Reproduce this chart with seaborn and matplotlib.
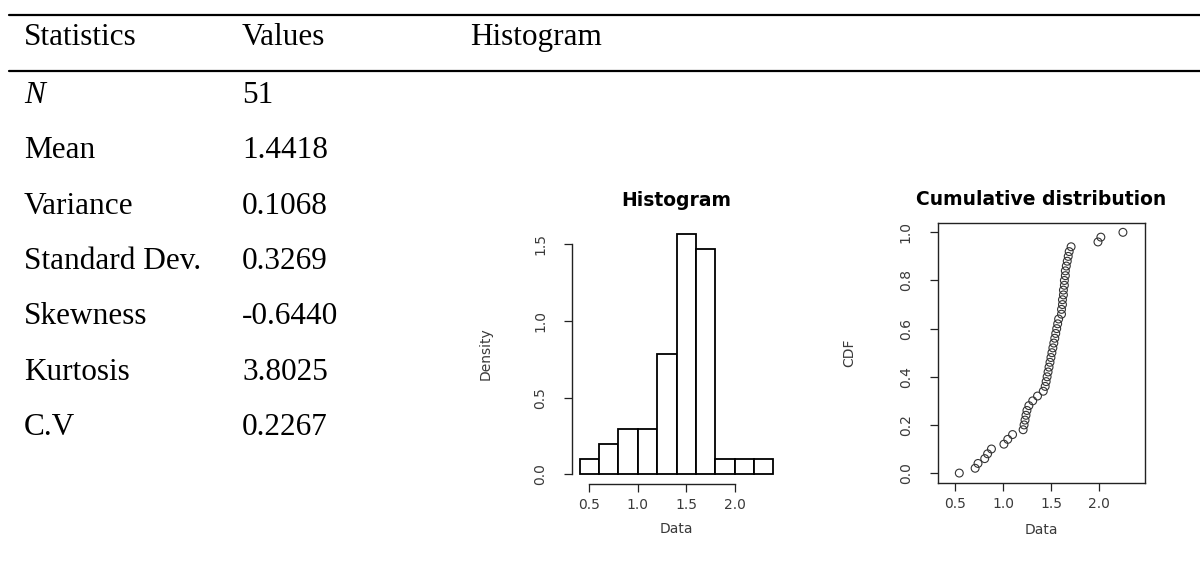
import numpy as np
import pandas as pd
import matplotlib
matplotlib.use("Agg")
import matplotlib.pyplot as plt
import seaborn as sns

# ---------------- data ----------------
stat_names = ["N", "Mean", "Variance", "Standard Dev.", "Skewness", "Kurtosis", "C.V"]
stat_values = ["51", "1.4418", "0.1068", "0.3269", "-0.6440", "3.8025", "0.2267"]
header_labels = ["Statistics", "Values", "Histogram"]

# sorted sample (n = 51)
sample = [0.545, 0.71, 0.74, 0.81, 0.84, 0.88, 1.01, 1.05, 1.10,
          1.21, 1.22, 1.23, 1.24, 1.25, 1.27, 1.31, 1.36,
          1.42, 1.44, 1.45, 1.46, 1.47, 1.48, 1.49, 1.50, 1.51, 1.52,
          1.53, 1.54, 1.55, 1.56, 1.57, 1.58,
          1.61, 1.61, 1.62, 1.62, 1.63, 1.63, 1.64, 1.64, 1.65, 1.65,
          1.66, 1.67, 1.68, 1.69, 1.71,
          1.99, 2.02, 2.25]
bin_edges = [0.4, 0.6, 0.8, 1.0, 1.2, 1.4, 1.6, 1.8, 2.0, 2.2, 2.4]
hist_xticks = [0.5, 1.0, 1.5, 2.0]
hist_yticks = [0.0, 0.5, 1.0, 1.5]
cdf_yticks = [0.0, 0.2, 0.4, 0.6, 0.8, 1.0]

sns.set_style("white")
plt.rcParams["font.family"] = ["DejaVu Sans"]
plt.rcParams["text.color"] = "black"
plt.rcParams["axes.labelcolor"] = "black"

W, H = 1200, 563
fig = plt.figure(figsize=(W / 100, H / 100), dpi=100)
fig.patch.set_facecolor("white")

def fx(px):
    return px / W

def fy(py):
    return 1 - py / H

# ---------------- table ----------------
serif = ["Liberation Serif", "DejaVu Serif"]
tsize = 22.5
line_kw = dict(color="black", lw=1.6, transform=fig.transFigure)
fig.add_artist(plt.Line2D([fx(9), 1.0], [fy(15), fy(15)], **line_kw))
fig.add_artist(plt.Line2D([fx(9), 1.0], [fy(71), fy(71)], **line_kw))

col_x = [24, 242, 470]
for x, lab in zip(col_x, header_labels):
    fig.text(fx(x), fy(45), lab, family=serif, fontsize=tsize, va="baseline",
             ha="left", color="black")

row_base = [103, 158, 214, 269, 324, 380, 435]
for yb, name, val in zip(row_base, stat_names, stat_values):
    fig.text(fx(col_x[0]), fy(yb), name, family=serif, fontsize=tsize, color="black",
             va="baseline", ha="left", style="italic" if name == "N" else "normal")
    fig.text(fx(col_x[1]), fy(yb), val, family=serif, fontsize=tsize, color="black",
             va="baseline", ha="left")

# ---------------- R-style panels ----------------
gray = "#3a3a3a"
tick_fs = 10
lab_fs = 10
title_fs = 13.5

df = pd.DataFrame({"Data": sample})
df["CDF"] = np.arange(len(df)) / (len(df) - 1)

# Histogram
ax1 = fig.add_axes([fx(572), fy(484), fx(781) - fx(572), fy(224) - fy(484)])
sns.histplot(data=df, x="Data", bins=bin_edges, stat="density", color="white",
             edgecolor="black", linewidth=1.3, alpha=1, ax=ax1)
ax1.set_xlim(0.32, 2.48)
dmax = 16 / (len(sample) * 0.2)
ax1.set_ylim(-0.04 * dmax, 1.04 * dmax)
for s in ["top", "right"]:
    ax1.spines[s].set_visible(False)
ax1.spines["left"].set_bounds(0, 1.5)
ax1.spines["bottom"].set_bounds(0.5, 2.0)
ax1.set_xticks(hist_xticks)
ax1.set_xticklabels([f"{v:.1f}" for v in hist_xticks], color=gray, fontsize=tick_fs)
ax1.set_yticks(hist_yticks)
ax1.set_yticklabels([f"{v:.1f}" for v in hist_yticks], color=gray, fontsize=tick_fs,
                    rotation=90, va="center")
ax1.set_title("Histogram", fontsize=title_fs, fontweight="bold", pad=13, color="black")
ax1.set_ylabel("Density", fontsize=lab_fs, color=gray)
ax1.set_xlabel("Data", fontsize=lab_fs, color=gray)
ax1.yaxis.set_label_coords(-0.378, 0.5)
ax1.xaxis.set_label_coords(0.5, -0.146)

# Cumulative distribution
ax2 = fig.add_axes([fx(937.7), fy(482.7), fx(1145) - fx(937.7), fy(222.7) - fy(482.7)])
sns.scatterplot(data=df, x="Data", y="CDF", marker="o", s=32, facecolors="none",
                edgecolor="#333333", linewidth=0.8, ax=ax2)
ax2.set_xlim(0.32, 2.48)
ax2.set_ylim(-0.04, 1.04)
ax2.set_xticks(hist_xticks)
ax2.set_xticklabels([f"{v:.1f}" for v in hist_xticks], color=gray, fontsize=tick_fs)
ax2.set_yticks(cdf_yticks)
ax2.set_yticklabels([f"{v:.1f}" for v in cdf_yticks], color=gray, fontsize=tick_fs,
                    rotation=90, va="center")
ax2.set_title("Cumulative distribution", fontsize=title_fs, fontweight="bold", pad=13,
              color="black")
ax2.set_ylabel("CDF", fontsize=lab_fs, color=gray)
ax2.set_xlabel("Data", fontsize=lab_fs, color=gray)
ax2.yaxis.set_label_coords(-0.394, 0.5)
ax2.xaxis.set_label_coords(0.5, -0.155)

for ax in (ax1, ax2):
    for s in ax.spines.values():
        s.set_linewidth(1.0)
        s.set_color("#222222")
    ax.tick_params(axis="both", direction="out", length=6, width=0.9, color="#222222",
                   bottom=True, left=True)
    ax.tick_params(axis="x", pad=4)
    ax.tick_params(axis="y", pad=12)
    ax.set_facecolor("white")
    ax.grid(False)

fig.savefig("out.png", dpi=100, facecolor="white")
